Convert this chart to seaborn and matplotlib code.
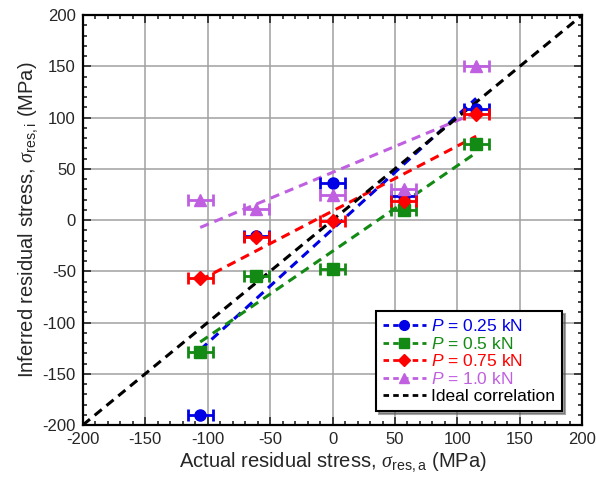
import numpy as np
import pandas as pd
import matplotlib
matplotlib.use("Agg")
import matplotlib.pyplot as plt
import seaborn as sns
from matplotlib.lines import Line2D
from matplotlib.ticker import MultipleLocator

# actual residual stress (MPa) at which every load was tested
actual = [-106, -61, 0, 57, 115]
x_err = 10

# inferred residual stress (MPa), one list per indentation load
loads = ["0.25", "0.5", "0.75", "1.0"]
inferred_025 = [-190, -16, 36, 23, 108]
inferred_05 = [-129, -55, -48, 10, 74]
inferred_075 = [-57, -17, -1, 19, 103]
inferred_10 = [20, 11, 24, 30, 150]

ideal = [-200, 200]

sns.set_style("ticks")
plt.rcParams["font.family"] = ["Liberation Sans", "DejaVu Sans"]
plt.rcParams["mathtext.fontset"] = "custom"
plt.rcParams["mathtext.it"] = "Liberation Sans:italic"
plt.rcParams["mathtext.rm"] = "Liberation Sans"
# serif italic sigma like the original axis labels
plt.rcParams["mathtext.bf"] = "Liberation Serif:italic"
plt.rcParams["axes.unicode_minus"] = False

series = [inferred_025, inferred_05, inferred_075, inferred_10]
colors = ["#0000e6", "#138a13", "#ff0000", "#c060e0"]
markers = ["o", "s", "D", "^"]
msizes = [8, 8, 7, 8]

fig = plt.figure(figsize=(5.96, 4.86), dpi=100)
ax = fig.add_axes([0.139, 0.1255, 0.838, 0.8435])

handles = []
for load, vals, c, m, ms in zip(loads, series, colors, markers, msizes):
    df = pd.DataFrame({"actual": actual, "inferred": vals})
    sns.regplot(data=df, x="actual", y="inferred", ax=ax, scatter=False, ci=None,
                truncate=True, color=c, line_kws={"ls": (0, (3, 2)), "lw": 2.2})
    ax.errorbar(actual, vals, xerr=x_err, fmt=m, color=c, ms=ms, capsize=4,
                elinewidth=2, capthick=2, zorder=4)
    handles.append(Line2D([], [], color=c, ls=(0, (2, 1.5)), lw=2, marker=m, ms=ms - 1,
                          label=f"$P$ = {load} kN"))

ax.plot(ideal, ideal, color="black", ls=(0, (3, 2)), lw=2.2, zorder=3)
handles.append(Line2D([], [], color="black", ls=(0, (2, 1.5)), lw=2,
                      label="Ideal correlation"))

ax.set_xlim(-200, 200)
ax.set_ylim(-200, 200)
ax.xaxis.set_major_locator(MultipleLocator(50))
ax.yaxis.set_major_locator(MultipleLocator(50))
ax.xaxis.set_minor_locator(MultipleLocator(10))
ax.yaxis.set_minor_locator(MultipleLocator(10))
ax.tick_params(which="both", direction="in", top=True, right=True, width=1.2)
ax.tick_params(which="major", length=6, labelsize=12, pad=5)
ax.tick_params(which="minor", length=3)
ax.grid(True, which="major", color="#a0a0a0", lw=1.1)
for s in ax.spines.values():
    s.set_linewidth(1.6)
    s.set_color("black")

ax.set_xlabel(r"Actual residual stress, $\mathbf{\sigma}_{\rm res,a}$ (MPa)", fontsize=14.5, labelpad=3)
ax.set_ylabel(r"Inferred residual stress, $\mathbf{\sigma}_{\rm res,i}$ (MPa)", fontsize=14.5, labelpad=1)

leg = ax.legend(handles=handles, loc="lower right", bbox_to_anchor=(0.96, 0.034),
                borderaxespad=0, fancybox=False, shadow=True, edgecolor="black",
                framealpha=1, fontsize=12.5, labelcolor="linecolor", handlelength=2.5,
                handletextpad=0.3, labelspacing=0.1, borderpad=0.4)
leg.get_frame().set_linewidth(1.5)

fig.savefig("out.png", dpi=100)
